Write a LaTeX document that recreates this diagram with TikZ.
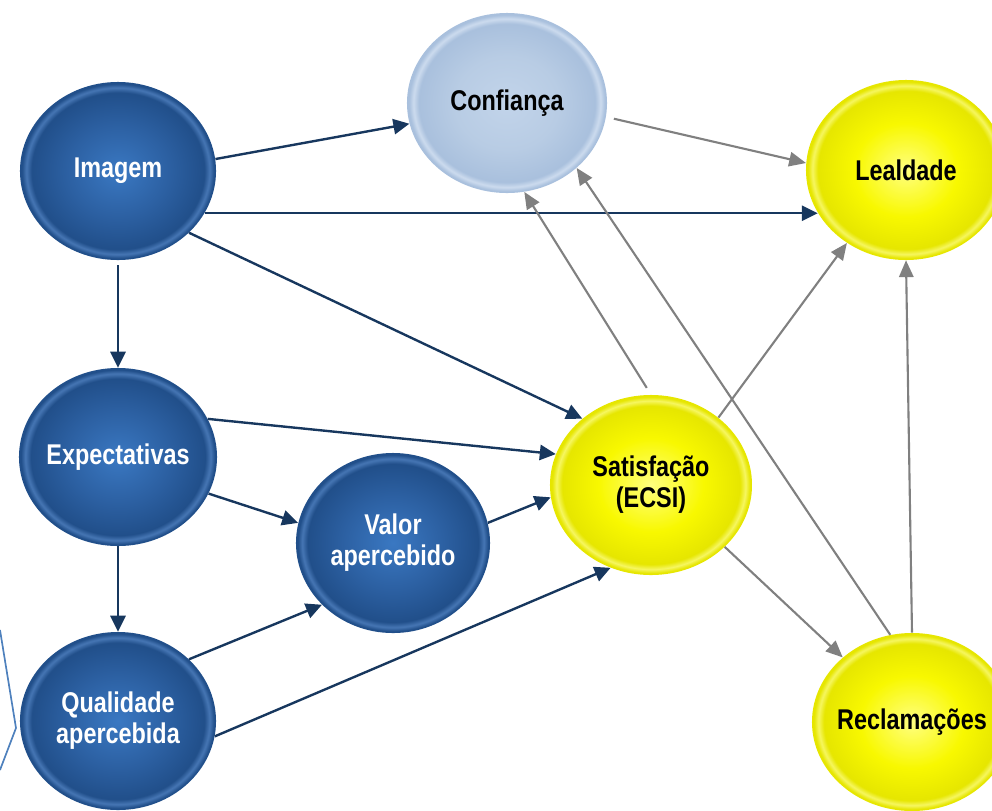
\documentclass[tikz,border=0pt]{standalone}
\usepackage{fontspec}
\setmainfont[FakeStretch=0.82]{Liberation Sans}
\usetikzlibrary{shapes.geometric,arrows.meta}
\definecolor{nvC}{HTML}{3A78C2}
\definecolor{nvM}{HTML}{2C60A2}
\definecolor{nvE}{HTML}{214F8A}
\definecolor{nvH}{HTML}{4676B4}
\definecolor{yC}{HTML}{FFFF80}
\definecolor{yM}{HTML}{F8F800}
\definecolor{yE}{HTML}{E6E600}
\definecolor{yH}{HTML}{F6F660}
\definecolor{cC}{HTML}{C2D4EA}
\definecolor{cM}{HTML}{B8CCE4}
\definecolor{cE}{HTML}{A9C0DD}
\definecolor{cH}{HTML}{CCDBEE}
\definecolor{arrnavy}{HTML}{17375E}
\definecolor{arrgray}{HTML}{808080}
\definecolor{polyblue}{HTML}{4F81BD}
\pgfdeclareradialshading{ballnavy}{\pgfpoint{0bp}{0bp}}{color(0bp)=(nvC); color(13bp)=(nvM); color(22bp)=(nvE); color(23.4bp)=(nvH); color(24.5bp)=(nvE); color(25bp)=(nvE); color(50bp)=(nvE)}
\pgfdeclareradialshading{ballyellow}{\pgfpoint{0bp}{0bp}}{color(0bp)=(yC); color(13bp)=(yM); color(22bp)=(yE); color(23.4bp)=(yH); color(24.5bp)=(yE); color(25bp)=(yE); color(50bp)=(yE)}
\pgfdeclareradialshading{balllight}{\pgfpoint{0bp}{0bp}}{color(0bp)=(cC); color(13bp)=(cM); color(22bp)=(cE); color(23.4bp)=(cH); color(24.5bp)=(cE); color(25bp)=(cE); color(50bp)=(cE)}
\tikzset{
  ball/.style={ellipse, inner sep=0pt, draw=none},
  navyball/.style={ball, shading=ballnavy},
  yellowball/.style={ball, shading=ballyellow},
  lightball/.style={ball, shading=balllight},
  lbl/.style={align=center, inner sep=0pt, font=\bfseries\fontsize{20.3}{22}\selectfont},
  wlbl/.style={lbl, text=white},
  blbl/.style={lbl, text=black},
  nav/.style={draw=arrnavy, line width=1.7pt, -{Triangle[length=0.4cm,width=0.38cm]}},
  gry/.style={draw=arrgray, line width=1.5pt, -{Triangle[length=0.42cm,width=0.36cm]}}
}
\begin{document}
\begin{tikzpicture}[x=0.025cm,y=-0.025cm]
\useasboundingbox (0,0) rectangle (992,810);
% circles
\node[navyball, minimum width=4.9cm, minimum height=4.45cm] (img) at (118,171) {};
\node[lightball, minimum width=5.0cm, minimum height=4.5cm] (conf) at (507,103) {};
\node[yellowball, minimum width=5.0cm, minimum height=4.5cm] (leal) at (906,170) {};
\node[navyball, minimum width=4.95cm, minimum height=4.45cm] (expe) at (118,457) {};
\node[navyball, minimum width=4.85cm, minimum height=4.5cm] (valor) at (393,543) {};
\node[yellowball, minimum width=5.05cm, minimum height=4.5cm] (sat) at (651,485) {};
\node[navyball, minimum width=4.9cm, minimum height=4.45cm] (qual) at (118,721) {};
\node[yellowball, minimum width=5.0cm, minimum height=4.45cm] (recl) at (912,722) {};
% labels
\node[wlbl] (imgT) at (img) {Imagem};
\node[blbl] (confT) at (conf) {Confiança};
\node[blbl] (lealT) at (leal) {Lealdade};
\node[wlbl] (expeT) at (expe) {Expectativas};
\node[wlbl] (valorT) at (valor) {Valor\\apercebido};
\node[blbl] (satT) at (sat) {Satisfação\\(ECSI)};
\node[wlbl] (qualT) at (qual) {Qualidade\\apercebida};
\node[blbl] (reclT) at (recl) {Reclamações};
% navy connectors
\draw[nav] (img.7.4) -- (conf.192.8);
\draw[nav] (img.-26) -- (img.-26 -| leal.206);
\draw[nav] (img.-41.2) -- (sat.136.2);
\draw[nav, shorten <=0.12cm] (img.south) -- (expe.north);
\draw[nav] (expe.23.5) -- (sat.162.4);
\draw[nav] (expe.-22.5) -- (valor.168.5);
\draw[nav] (expe.south) -- (qual.north);
\draw[nav] (qual.41.6) -- (valor.221.5);
\draw[nav] (qual.-9) -- (sat.244.4);
\draw[nav] (valor.12.2) -- (sat.187);
% gray connectors
\draw[gry, shorten <=0.2cm] (conf.-8.9) -- (leal.176);
\draw[gry, shorten <=0.2cm] (sat.90.6) -- (conf.281.1);
\draw[gry] (recl.104.9) -- (conf.317.5);
\draw[gry] (sat.45.8) -- (leal.231.3);
\draw[gry] (sat.-40.7) -- (recl.137);
\draw[gry] (recl.north) -- (leal.south);
% left bracket line
\draw[polyblue, line width=1.2pt] (0,630) -- (16,728) -- (0,770);
\end{tikzpicture}
\end{document}
